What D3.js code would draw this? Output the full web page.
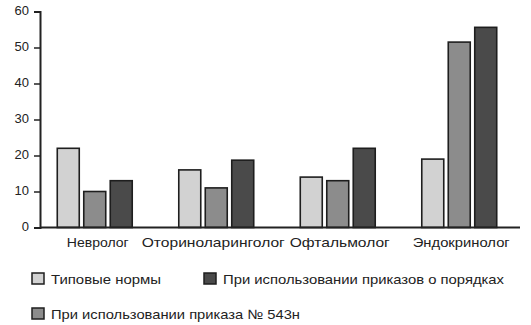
<!DOCTYPE html>
<html><head><meta charset="utf-8">
<script src="https://cdn.jsdelivr.net/npm/d3@7"></script>
<style>body{margin:0;background:#fff}svg{display:block}text{font-family:"Liberation Sans",Arial,sans-serif;fill:#222}</style>
</head><body><svg id="c" width="531" height="325"></svg>
<script>
const categories = ["Невролог","Оториноларинголог","Офтальмолог","Эндокринолог"];
const seriesNames = ["Типовые нормы","При использовании приказа № 543н","При использовании приказов о порядках"];
const typical = [22, 16, 14, 19];
const order543 = [10, 11, 13, 51.5];
const orders = [13, 18.7, 22, 55.6];
const yTicks = [0,10,20,30,40,50,60];
const colors = ["#d2d2d2","#8c8c8c","#4a4a4a"];

const values = [typical, order543, orders];
const svg = d3.select("#c");
const y = d3.scaleLinear().domain([0,60]).range([227.5,11.5]);
const x0 = d3.scaleBand().domain(categories).range([34,520]).paddingInner(0.346).paddingOuter(0.173);
const x1 = d3.scaleBand().domain(d3.range(3)).range([0,x0.bandwidth()]).paddingInner(0.17).paddingOuter(0.085);

// bars
categories.forEach((c,ci)=>{
  values.forEach((vals,si)=>{
    svg.append("rect")
      .attr("x", x0(c)+x1(si))
      .attr("y", y(vals[ci]))
      .attr("width", x1.bandwidth())
      .attr("height", y(0)-y(vals[ci]))
      .attr("fill", colors[si])
      .attr("stroke","#1e1e1e").attr("stroke-width",1.6);
  });
});

// y axis
const ya = svg.append("g").attr("transform","translate(40,0)")
  .call(d3.axisLeft(y).tickValues(yTicks).tickSize(6).tickPadding(5));
ya.select(".domain").attr("stroke","#222").attr("stroke-width",2);
ya.selectAll(".tick line").attr("stroke","#222").attr("stroke-width",1.5);
ya.selectAll("text").attr("font-size",13).attr("fill","#333").attr("dy","0.2em").style("font-family","'Liberation Sans',Arial,sans-serif");

// x axis line
svg.append("line").attr("x1",40).attr("x2",520).attr("y1",y(0)).attr("y2",y(0)).attr("stroke","#222").attr("stroke-width",2);

// category labels (widths matched to reference typeface)
const catLen = [62,143,100,97];
const catShift = [3,-3,2,2];
svg.selectAll(".cat").data(categories).enter().append("text")
  .attr("x", (d,i)=>x0(d)+x0.bandwidth()/2+catShift[i])
  .attr("y", 247)
  .attr("text-anchor","middle").attr("font-size",13.5)
  .attr("textLength",(d,i)=>catLen[i]).attr("lengthAdjust","spacingAndGlyphs")
  .text(d=>d);

// legend
const legend = [
  {i:0, x:32, y:273, w:110},
  {i:2, x:204, y:273, w:281},
  {i:1, x:32, y:308, w:249}
];
legend.forEach(l=>{
  svg.append("rect").attr("x",l.x).attr("y",l.y).attr("width",12).attr("height",11)
    .attr("fill",colors[l.i]).attr("stroke","#1e1e1e").attr("stroke-width",1.5);
  svg.append("text").attr("x",l.x+19).attr("y",l.y+10.5).attr("font-size",13.5)
    .attr("textLength",l.w).attr("lengthAdjust","spacingAndGlyphs").text(seriesNames[l.i]);
});
</script></body></html>
